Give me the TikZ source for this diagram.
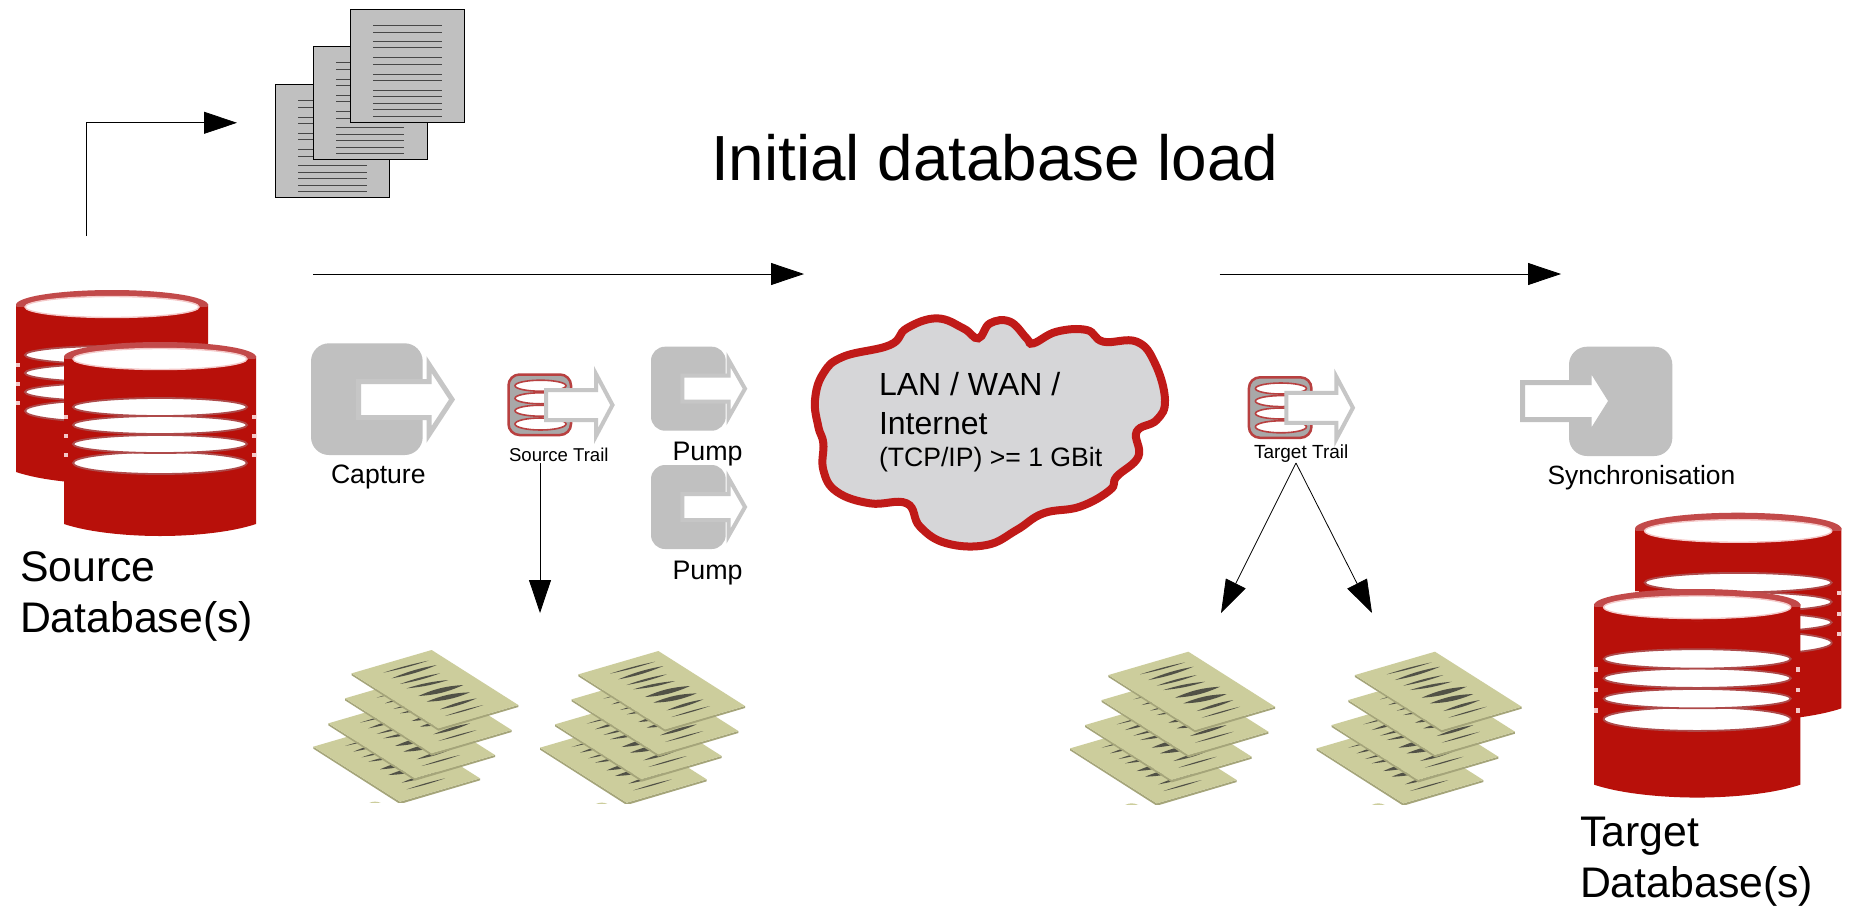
\documentclass[tikz,border=0pt]{standalone}
\usepackage{fontspec}
\setmainfont{Liberation Sans}
\usetikzlibrary{arrows.meta}
\definecolor{dbred}{HTML}{B8100A}
\definecolor{dbrim}{HTML}{C24A4A}
\definecolor{dbband}{HTML}{AE4A4A}
\definecolor{dbpink}{HTML}{F4C8C8}
\definecolor{boxgrey}{HTML}{C0C0C0}
\definecolor{arrowgrey}{HTML}{C6C6C6}
\definecolor{trailgrey}{HTML}{A8A8A8}
\definecolor{trailred}{HTML}{B84040}
\definecolor{cloudfill}{HTML}{D6D6D8}
\definecolor{cloudred}{HTML}{C01A18}
\definecolor{sheetcol}{HTML}{CCCD9C}
\definecolor{sheetedge}{HTML}{A5A57A}
\definecolor{inkcol}{HTML}{3C3C38}
\tikzset{
  txt/.style={inner sep=0pt,outer sep=0pt,anchor=base west,text=black},
  conn/.style={draw=black,line width=0.8pt,-{Triangle[length=33pt,width=22pt,fill=black]}},
  hollow/.style={fill=white,draw=arrowgrey,miter limit=12},
  stripe/.style={fill=white,draw=dbband,line width=1.8pt},
  notch/.style={fill=dbpink},
  pagebox/.style={fill=boxgrey,draw=black,line width=1pt},
  pageline/.style={draw=black!72,line width=1pt},
  coil/.style={fill=white,draw=trailred,line width=1.6pt},
}
\newcommand{\dbcyl}[3]{%
\begin{scope}[shift={(#1,#2)},xscale=#3,yscale=#3]
  \fill[dbred] (0,14) -- (192,14) -- (192,182) .. controls (165,191) and (125,194) .. (96,194)
     .. controls (67,194) and (27,191) .. (0,182) -- cycle;
  \fill[dbrim] (96,15) ellipse [x radius=96,y radius=15];
  \fill[dbred] (0,17) -- (192,17) -- (192,30) -- (0,30) -- cycle;
  \foreach \ny in {53,73,92,111}{
    \fill[notch] (0,\ny) rectangle (4,\ny+4);
    \fill[notch] (188,\ny) rectangle (192,\ny+4);
  }
  \draw[stripe] (96,121) ellipse [x radius=87,y radius=11];
  \draw[stripe] (96,102) ellipse [x radius=87,y radius=9];
  \draw[stripe] (96,83) ellipse [x radius=87,y radius=9];
  \draw[stripe] (96,65) ellipse [x radius=87,y radius=9];
  \fill[dbred] (8,30) -- (184,30) -- (184,46) .. controls (150,55) and (42,55) .. (8,46) -- cycle;
  \fill[dbred] (0,30) rectangle (8,60);
  \fill[dbred] (184,30) rectangle (192,60);
  \draw[fill=white,draw=dbpink,line width=1.4pt] (96,17) ellipse [x radius=87,y radius=10.5];
\end{scope}}
\newcommand{\arrowshape}[8]{% style, x0, xb, xt, yc, hs, hh, lw
  \draw[hollow,#1,line width=#8pt] (#2,#5-#6) -- (#3,#5-#6) -- (#3,#5-#7) -- (#4,#5) -- (#3,#5+#7) -- (#3,#5+#6) -- (#2,#5+#6) -- cycle;}
\newcommand{\pumpbox}[1]{%
\begin{scope}[shift={(0,#1)}]
  \fill[boxgrey,rounded corners=14pt] (651,346.7) rectangle (725.7,430.7);
  \arrowshape{}{682.3}{728.5}{745}{388.7}{13}{29}{4}
\end{scope}}
\newcommand{\trailicon}[2]{%
\begin{scope}[shift={(#1,#2)}]
  \draw[fill=trailgrey,draw=trailred,line width=2.5pt,rounded corners=11pt] (508.5,374.5) rectangle (571,435);
  \draw[coil] (540.5,424) ellipse [x radius=25.5,y radius=6];
  \draw[coil] (540.5,410.7) ellipse [x radius=25.5,y radius=5.5];
  \draw[coil] (540.5,398.3) ellipse [x radius=25.5,y radius=5.5];
  \draw[coil] (540.5,385.7) ellipse [x radius=25.5,y radius=5.5];
  \arrowshape{}{546}{596}{612.5}{405}{15}{31}{4}
\end{scope}}
\newcommand{\pagesheet}[2]{%
\begin{scope}[shift={(#1,#2)}]
  \draw[pagebox] (0,0) rectangle (114,113);
  \foreach \ly in {16,23,32.3,38.7,48.7,55,65,71.3,81,87.3,94,100.3,107}{
    \draw[pageline] (23,\ly) -- (91.3,\ly);
  }
\end{scope}}
\newcommand{\inkmark}[5]{\fill[inkcol,opacity=.85] (#1,#2) to[bend left=#5] (#3,#4) to[bend left=#5] (#1,#2) -- cycle;}
\newcommand{\sheet}[2]{%
\begin{scope}[shift={(#1,#2)}]
  \fill[sheetedge] (0,0) -- (260,165) -- (500,95) -- (500,101) -- (260,172) -- (0,6) -- cycle;
  \fill[sheetcol] (0,0) -- (240,-70) -- (500,95) -- (260,165) -- cycle;
  \inkmark{95}{-2}{230}{-38}{3}
  \inkmark{120}{15}{255}{-25}{6}
  \inkmark{145}{32}{265}{0}{5}
  \inkmark{165}{45}{290}{20}{6}
  \inkmark{200}{68}{335}{35}{10}
  \inkmark{225}{85}{355}{57}{10}
  \inkmark{265}{108}{375}{75}{7}
  \inkmark{280}{128}{395}{95}{3}
\end{scope}}
\newcommand{\docstack}[2]{%
\begin{scope}[shift={(#1,#2)},x=0.33333pt,y=-0.33333pt]
  \begin{scope}
    \clip (0,0) rectangle (700,518);
    \fill[sheetcol] (205,520) .. controls (220,513) and (230,513) .. (245,520) -- cycle;
    \sheet{40}{350}
    \sheet{85}{280}
    \sheet{135}{205}
    \sheet{155}{130}
  \end{scope}
\end{scope}}
\begin{document}
\begin{tikzpicture}[x=1pt,y=-1pt]
\useasboundingbox (0,0) rectangle (1851,908);
\fill[white] (0,0) rectangle (1851,908);

% paper stack, top
\pagesheet{275.3}{84.7}
\pagesheet{313}{46.7}
\pagesheet{350.3}{9}

% title
\node[txt] (title) at (711,180.7) {\fontsize{63.8}{63.8}\selectfont Initial database load};

% databases
\dbcyl{16}{290}{1}
\dbcyl{64}{342}{1}
\dbcyl{1635}{512.7}{1.075}
\dbcyl{1594}{589}{1.075}
\node[txt] (srcA) at (20,581) {\fontsize{42.8}{42.8}\selectfont Source};
\node[txt] (srcB) at (20,632) {\fontsize{42.8}{42.8}\selectfont Database(s)};
\node[txt] (tgtA) at (1580,846.7) {\fontsize{42.8}{42.8}\selectfont Target};
\node[txt] (tgtB) at (1580,897.7) {\fontsize{42.8}{42.8}\selectfont Database(s)};

% capture
\fill[boxgrey,rounded corners=18pt] (311,343.3) rectangle (422.7,455);
\arrowshape{}{358.5}{429}{452}{399.5}{18}{35}{5}
\node[txt] (capture) at (331,483) {\fontsize{26.6}{26.6}\selectfont Capture};

% source trail
\trailicon{0}{0}
\node[txt] (srcTrail) at (509,461.7) {\fontsize{18.6}{18.6}\selectfont Source Trail};

% pumps
\pumpbox{0}
\pumpbox{118.3}
\node[txt] (pumpA) at (672.5,460) {\fontsize{26.8}{26.8}\selectfont Pump};
\node[txt] (pumpB) at (672.5,579.3) {\fontsize{26.8}{26.8}\selectfont Pump};

% cloud
\begin{scope}[shift={(790,300)},x=0.33333pt,y=-0.33333pt]
\draw[fill=cloudfill,draw=cloudred,line width=8pt] plot[smooth cycle,tension=0.7] coordinates {
 (75,300) (100,220) (160,170) (300,135) (350,85) (440,55) (520,85) (565,115) (600,70) (660,65)
 (710,115) (730,130) (800,95) (890,90) (940,125) (1040,125) (1095,190) (1125,300) (1100,360)
 (1040,395) (1045,470) (980,530) (960,570) (870,620) (760,640) (680,690) (590,735) (470,730)
 (390,680) (350,610) (240,610) (140,575) (100,510) (100,430) (85,380)};
\end{scope}
\node[txt] (cloudA) at (879,395.7) {\fontsize{32}{32}\selectfont\addfontfeature{Kerning=Off} LAN / WAN /};
\node[txt] (cloudB) at (879,434) {\fontsize{32}{32}\selectfont Internet};
\node[txt] (cloudC) at (879,466.7) {\fontsize{26.6}{26.6}\selectfont (TCP/IP) >= 1 GBit};

% target trail
\trailicon{740.4}{2.8}
\node[txt] (tgtTrail) at (1254,458.3) {\fontsize{19}{19}\selectfont Target Trail};

% synchronisation
\fill[boxgrey,rounded corners=18pt] (1569,346.7) rectangle (1672.3,456);
\arrowshape{draw=boxgrey}{1522.5}{1589}{1611}{401}{18.5}{35}{5}
\node[txt] (sync) at (1547.5,484.3) {\fontsize{26.4}{26.4}\selectfont Synchronisation};

% document stacks
\docstack{300}{630}
\docstack{526.7}{631}
\docstack{1056.7}{631.7}
\docstack{1303.3}{631.7}

% connector end points
\coordinate (dbOut) at (86,236);
\coordinate (bend) at (86,122.8);
\coordinate (pagesIn) at (237,122.8);
\coordinate (flowAa) at (313,274);
\coordinate (flowAb) at (804,274);
\coordinate (flowBa) at (1219.5,274);
\coordinate (flowBb) at (1561,274);
\coordinate (trailS) at (540,463);
\coordinate (docsS) at (540,613);
\coordinate (trailT) at (1296,463);
\coordinate (docsTa) at (1221,613);
\coordinate (docsTb) at (1372,613);

% connectors
\draw[conn] (dbOut) -- (bend) -- (pagesIn);
\draw[conn] (flowAa) -- (flowAb);
\draw[conn] (flowBa) -- (flowBb);
\draw[conn] (trailS) -- (docsS);
\draw[conn] (trailT) -- (docsTa);
\draw[conn] (trailT) -- (docsTb);
\end{tikzpicture}
\end{document}
